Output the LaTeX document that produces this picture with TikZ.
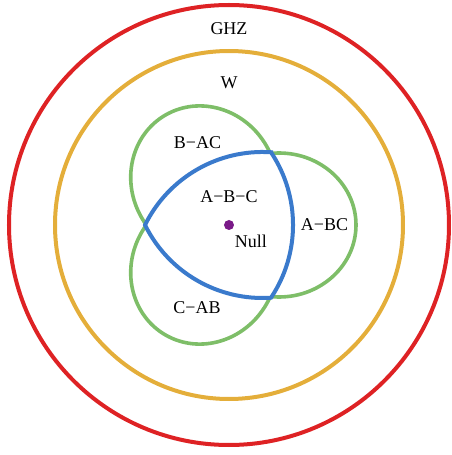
\documentclass[tikz,border=0pt]{standalone}
\usepackage{fontspec}
\setmainfont{Liberation Serif}

\definecolor{ghzred}{RGB}{222,34,36}
\definecolor{wgold}{RGB}{228,174,58}
\definecolor{bisgreen}{RGB}{126,190,104}
\definecolor{sepblue}{RGB}{58,122,204}
\definecolor{nullpurple}{RGB}{122,26,136}

\begin{document}
\begin{tikzpicture}[x=1pt, y=1pt,
  ring/.style={line width=4pt},
  lbl/.style={font=\fontsize{18}{20}\selectfont, inner sep=0pt}]

  \useasboundingbox (-229,-230) rectangle (222,225);

  % outer classes
  \draw[ring, ghzred] (0,0) circle (220);
  \draw[ring, wgold] (0,0) circle (174);

  % biseparable classes
  \foreach \ang in {0,120,240}
    \draw[line width=3.6pt, bisgreen, rotate=\ang] (50,0) ellipse [x radius=77, y radius=72];

  % fully separable class
  \draw[ring, sepblue, fill=white] (60:84)
    arc[start angle=33.7, end angle=-33.7, radius=131.1]
    arc[start angle=273.7, end angle=206.3, radius=131.1]
    arc[start angle=153.7, end angle=86.3, radius=131.1] -- cycle;

  % labels
  \node[lbl] (ghz) at (0,196) {GHZ};
  \node[lbl] (w) at (0,142) {W};
  \node[lbl] (bac) at (-31.5,82) {B−AC};
  \node[lbl] (abc) at (95.5,0) {A−BC};
  \node[lbl] (cab) at (-32,-83) {C−AB};
  \node[lbl] (sep) at (0,28) {A−B−C};
  \node[circle, fill=nullpurple, inner sep=0pt, minimum size=10pt] (dot) at (0,0) {};
  \node[lbl] (null) at (22,-16) {Null};
\end{tikzpicture}
\end{document}
